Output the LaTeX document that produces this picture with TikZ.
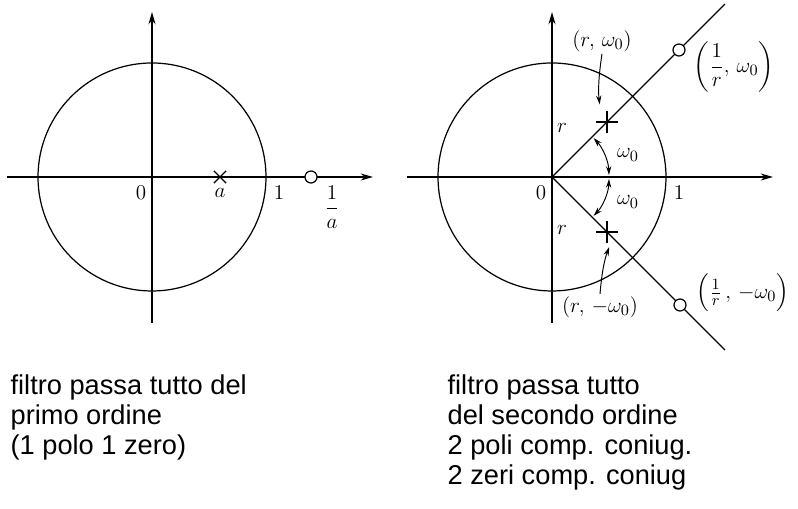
\documentclass[tikz,border=0pt]{standalone}
\usepackage{amsmath}
\usepackage{fontspec}
\setsansfont{Liberation Sans}
\usetikzlibrary{arrows.meta,shapes.misc}
\begin{document}
\begin{tikzpicture}[
	x=0.02cm, y=0.02cm, line width=0.7pt,
	ax/.style = {-{Stealth[length=7pt,width=4pt]}},
	sm/.style = {line width=0.55pt},
	xpole/.style = {cross out, draw, minimum size=0.22cm, inner sep=0, line width=0.7pt},
	ppole/.style = {cross out, draw, rotate=45, minimum size=0.3cm, inner sep=0, line width=0.7pt},
	zero/.style = {circle, draw, fill=white, minimum size=0.24cm, inner sep=0},
	lab/.style = {font=\fontsize{13}{15}\selectfont, inner sep=1pt},
	txt/.style = {font=\sffamily\fontsize{15.5}{17.2}\selectfont, align=left, anchor=north west, inner sep=0}
	]
	\useasboundingbox (0,0) rectangle (798,509);
	
	%Left plane
	\coordinate	(o1)	at	(152, 332);
	\coordinate	(w1)	at	(7, 332);
	\coordinate	(e1)	at	(373, 332);
	\coordinate	(s1)	at	(152, 186);
	\coordinate	(n1)	at	(152, 497);
	
	\draw[ax]	(w1)	--	(e1);
	\draw[ax]	(s1)	--	(n1);
	\draw		(o1)	circle	(114);
	
	\node[xpole]	(pa)	at	(220, 332)	{};
	\node[zero]		(za)	at	(311, 332)	{};
	
	\node[lab]	(l0)	at	(141, 316)	{$0$};
	\node[lab]	(la)	at	(220, 316)	{$a$};
	\node[lab]	(l1)	at	(279, 316)	{$1$};
	\node[lab]	(lia)	at	(332, 302)	{$\dfrac{1}{a}$};
	
	%Right plane
	\coordinate	(o2)	at	(552, 332);
	\coordinate	(w2)	at	(407, 332);
	\coordinate	(e2)	at	(773, 332);
	\coordinate	(s2)	at	(552, 186);
	\coordinate	(n2)	at	(552, 497);
	\coordinate	(u2)	at	(725, 505);
	\coordinate	(d2)	at	(725, 159);
	
	\draw[ax]	(w2)	--	(e2);
	\draw[ax]	(s2)	--	(n2);
	\draw		(o2)	circle	(114);
	\draw		(o2)	--	(u2);
	\draw		(o2)	--	(d2);
	
	\node[ppole]	(p1)	at	(607, 387)	{};
	\node[ppole]	(p2)	at	(607, 277)	{};
	\node[zero]		(z1)	at	(679, 459)	{};
	\node[zero]		(z2)	at	(680, 204)	{};
	
	\node[lab]	(l02)	at	(541, 316)	{$0$};
	\node[lab]	(l12)	at	(679, 316)	{$1$};
	\node[lab]	(r1)	at	(562, 381)	{$r$};
	\node[lab]	(r2)	at	(562, 279)	{$r$};
	\node[lab]	(w01)	at	(628, 354)	{$\omega_0$};
	\node[lab]	(w02)	at	(628, 307)	{$\omega_0$};
	\node[lab]	(lp1)	at	(602, 468)	{$(r,\, \omega_0)$};
	\node[lab]	(lp2)	at	(600, 202)	{$(r,\, -\omega_0)$};
	\node[lab]	(lz1)	at	(734, 442)	{$\left(\dfrac{1}{r},\, \omega_0\right)$};
	\node[lab]	(lz2)	at	(743, 216)	{$\Bigl(\tfrac{1}{r}\,,\, -\omega_0\Bigr)$};
	
	%Arrows
	\draw[sm, {Stealth[length=5pt,width=3pt]}-{Stealth[length=5pt,width=3pt]}]
		([shift={(2:57)}]o2)	arc[start angle=2, end angle=43, radius=57];
	\draw[sm, {Stealth[length=5pt,width=3pt]}-{Stealth[length=5pt,width=3pt]}]
		([shift={(-43:57)}]o2)	arc[start angle=-43, end angle=-2, radius=57];
	\draw[sm, -{Stealth[length=5pt,width=3pt]}, shorten >=0.24cm]
		(lp1.south)	to[bend right=8]	(p1.north);
	\draw[sm, -{Stealth[length=5pt,width=3pt]}, shorten >=0.2cm]
		(lp2.north)	to[bend left=8]		(p2.south);
	
	%Text
	\node[txt]	(t1)	at	(10, 135)	{filtro passa tutto del\\primo ordine\\(1 polo 1 zero)};
	\node[txt]	(t2)	at	(447, 135)	{filtro passa tutto\\del secondo ordine\\2 poli comp. coniug.\\2 zeri comp. coniug};
\end{tikzpicture}
\end{document}
